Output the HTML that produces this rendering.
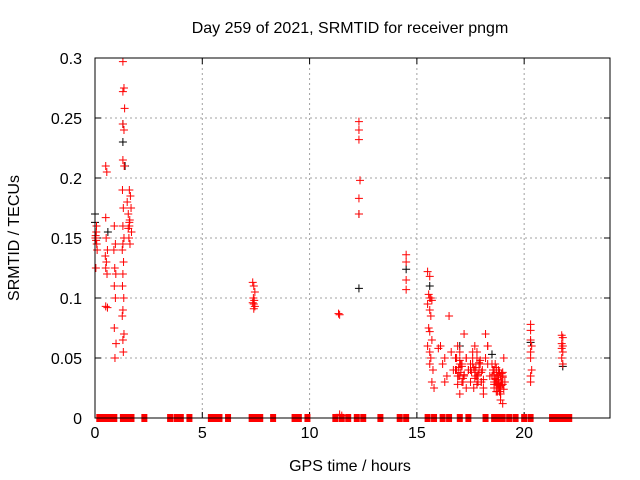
<!DOCTYPE html>
<html><head><meta charset="utf-8"><style>
body{margin:0;background:#fff;}
svg{display:block;font-family:"Liberation Sans",sans-serif;}
</style></head><body>
<svg id="chart" width="640" height="480"></svg>
<script>
const xTicks=[0,5,10,15,20];
const yTicks=[0,0.05,0.1,0.15,0.2,0.25,0.3];
const yTickLabels=["0","0.05","0.1","0.15","0.2","0.25","0.3"];
const redX=[0.02,0.05,0.08,0.03,0.06,0.1,0.04,0.07,
0.5,0.55,0.5,0.52,0.58,0.48,0.53,0.5,0.56,0.5,0.58,
0.9,0.95,0.88,0.92,0.97,0.9,0.95,0.9,0.98,0.93,
1.3,1.35,1.3,1.38,1.3,1.35,1.3,1.36,1.28,1.32,1.3,1.35,1.3,1.27,1.33,1.3,1.28,1.34,1.3,1.27,1.35,1.3,1.32,
1.6,1.65,1.55,1.62,1.6,1.7,1.58,1.63,1.5,1.68,1.6,1.55,
7.35,7.4,7.45,7.38,7.42,7.35,7.4,7.45,7.4,
11.35,11.4,11.4,11.5,
12.3,12.3,12.3,12.35,12.3,12.3,
14.5,14.5,14.5,14.5,
15.5,15.6,15.55,15.65,15.6,15.7,15.5,15.6,15.65,15.55,15.6,15.7,15.5,15.6,15.65,15.6,15.75,15.7,15.8,
16.0,16.1,16.2,16.3,16.5,16.6,16.4,16.8,16.9,17.0,17.1,17.0,16.9,17.2,17.3,17.4,17.5,17.3,17.2,17.1,
17.0,16.8,17.6,17.7,17.8,17.9,18.0,18.1,17.6,17.7,17.8,17.9,18.0,18.2,18.3,18.4,17.5,17.4,18.1,18.2,
18.3,18.5,18.6,18.7,18.8,18.9,19.0,19.1,18.5,18.6,18.7,18.8,18.9,19.0,18.6,18.7,18.8,18.9,19.0,18.55,
18.65,18.75,18.85,18.95,19.05,18.6,18.7,18.8,18.9,19.0,16.7,17.3,17.8,18.3,18.9,16.3,17.0,17.5,
16.85,16.95,17.05,17.15,16.85,16.95,17.05,17.15,16.9,17.0,17.1,17.2,
17.55,17.65,17.75,17.85,17.95,18.05,17.6,17.7,17.8,17.9,18.0,18.1,17.65,17.75,17.85,17.95,
18.55,18.65,18.75,18.85,18.95,19.05,18.6,18.7,18.8,18.9,19.0,18.65,18.75,18.85,18.95,18.7,18.8,18.9,
20.3,20.3,20.3,20.35,20.3,20.3,20.35,20.3,20.3,
21.75,21.8,21.75,21.8,21.75,21.8,21.75,21.8];
const redY=[0.15,0.148,0.145,0.152,0.155,0.14,0.125,0.16,
0.21,0.205,0.167,0.15,0.14,0.135,0.13,0.125,0.12,0.093,0.092,
0.16,0.145,0.14,0.125,0.12,0.11,0.1,0.075,0.062,0.05,
0.297,0.275,0.272,0.258,0.245,0.24,0.215,0.21,0.19,0.175,0.16,0.15,0.145,0.14,0.13,0.12,0.11,0.1,0.09,0.085,0.07,0.065,0.055,
0.19,0.185,0.17,0.165,0.16,0.155,0.15,0.145,0.18,0.175,0.163,0.158,
0.113,0.11,0.105,0.1,0.098,0.096,0.095,0.093,0.091,
0.087,0.086,0.003,0.002,
0.247,0.24,0.232,0.198,0.183,0.17,
0.136,0.13,0.115,0.107,
0.122,0.118,0.103,0.1,0.1,0.098,0.095,0.09,0.085,0.075,0.072,0.065,0.06,0.055,0.05,0.045,0.04,0.03,0.025,
0.058,0.06,0.045,0.05,0.085,0.055,0.035,0.04,0.035,0.045,0.03,0.055,0.06,0.07,0.05,0.04,0.03,0.025,0.035,0.045,
0.02,0.05,0.055,0.04,0.035,0.045,0.03,0.02,0.045,0.06,0.05,0.04,0.03,0.07,0.06,0.035,0.045,0.04,0.025,0.05,
0.045,0.035,0.03,0.025,0.04,0.02,0.035,0.03,0.045,0.028,0.022,0.035,0.015,0.038,0.04,0.03,0.025,0.02,0.028,0.04,
0.03,0.035,0.022,0.03,0.05,0.025,0.038,0.03,0.035,0.012,0.04,0.05,0.055,0.06,0.025,0.03,0.035,0.04,
0.04,0.035,0.045,0.03,0.05,0.042,0.038,0.033,0.028,0.048,0.043,0.036,
0.038,0.042,0.035,0.03,0.045,0.04,0.05,0.033,0.028,0.046,0.038,0.032,0.025,0.042,0.036,0.048,
0.04,0.033,0.028,0.038,0.03,0.024,0.036,0.042,0.031,0.027,0.034,0.045,0.022,0.026,0.037,0.032,0.029,0.02,
0.078,0.073,0.065,0.06,0.055,0.05,0.04,0.035,0.03,
0.069,0.067,0.062,0.06,0.058,0.055,0.05,0.045];
const zeroX=[0.2,0.3,0.5,0.7,0.9,1.3,1.5,1.7,2.3,3.5,3.8,4.0,4.4,5.4,5.6,5.8,6.2,7.3,7.5,7.7,8.3,9.3,9.5,9.9,11.2,11.5,11.8,12.2,12.5,13.3,14.2,14.5,15.5,15.8,16.2,16.5,17.0,17.4,18.2,18.6,18.8,19.0,19.3,19.6,20.0,20.3,21.3,21.5,21.7,21.9,22.1];
const blackX=[0.0,0.0,1.3,1.3,12.3,12.3,14.5,15.6,17.0,18.5,20.3,21.8,0.6,1.4];
const blackY=[0.17,0.163,0.245,0.23,0.17,0.108,0.124,0.11,0.06,0.053,0.063,0.043,0.155,0.21];

const L=95,R=610,T=58,B=418,XMAX=24,YMAX=0.3;
const sx=v=>L+v/XMAX*(R-L), sy=v=>B-v/YMAX*(B-T);
const svg=document.getElementById('chart');const NS='http://www.w3.org/2000/svg';
function mk(tag,attrs,parent){const e=document.createElementNS(NS,tag);for(const k in attrs)e.setAttribute(k,attrs[k]);(parent||svg).appendChild(e);return e;}
const grid=mk('g',{});


xTicks.forEach(t=>{const x=sx(t);
 if(t>0){const g=mk('line',{x1:x,x2:x,y1:T,y2:B,stroke:'#a0a0a0','stroke-dasharray':'2,3'},grid);}
 mk('line',{x1:x,x2:x,y1:B,y2:B-6,stroke:'#000'});mk('line',{x1:x,x2:x,y1:T,y2:T+6,stroke:'#000'});
 const tx=mk('text',{x:x,y:B+20,'text-anchor':'middle','font-size':'16'});tx.textContent=t;
 
 });
yTicks.forEach((t,i)=>{const y=sy(t);
 if(i>0&&i<yTicks.length-1){const g=mk('line',{x1:L,x2:R,y1:y,y2:y,stroke:'#a0a0a0','stroke-dasharray':'2,3'},grid);}
 mk('line',{x1:L,x2:L+6,y1:y,y2:y,stroke:'#000'});mk('line',{x1:R,x2:R-6,y1:y,y2:y,stroke:'#000'});
 const tx=mk('text',{x:L-13,y:y+6,'text-anchor':'end','font-size':'16'});tx.textContent=yTickLabels[i];
 
 });
function plus(x,y,color,g){mk('path',{d:`M${x-4},${y}h8M${x},${y-4}v8`,stroke:color,'stroke-width':'1'},g);}
const gz=mk('g',{});


zeroX.forEach(v=>{mk('rect',{x:sx(v)-3,y:B-4,width:6,height:8,fill:'red'},gz);});
const gb=mk('g',{});


blackX.forEach((v,i)=>plus(sx(v),sy(blackY[i]),'#000',gb));
const gr=mk('g',{});


redX.forEach((v,i)=>plus(sx(v),sy(redY[i]),'#f00',gr));
const fr=mk('rect',{x:L,y:T,width:R-L,height:B-T,fill:'none',stroke:'#000'});


const ti=mk('text',{x:350,y:33,'text-anchor':'middle','font-size':'16'});ti.textContent='Day 259 of 2021, SRMTID for receiver pngm';


const xl=mk('text',{x:350,y:471,'text-anchor':'middle','font-size':'16'});xl.textContent='GPS time / hours';


const yl=mk('text',{x:0,y:0,'text-anchor':'middle','font-size':'16',transform:'translate(19,238) rotate(-90)'});yl.textContent='SRMTID / TECUs';


</script>
</body></html>
